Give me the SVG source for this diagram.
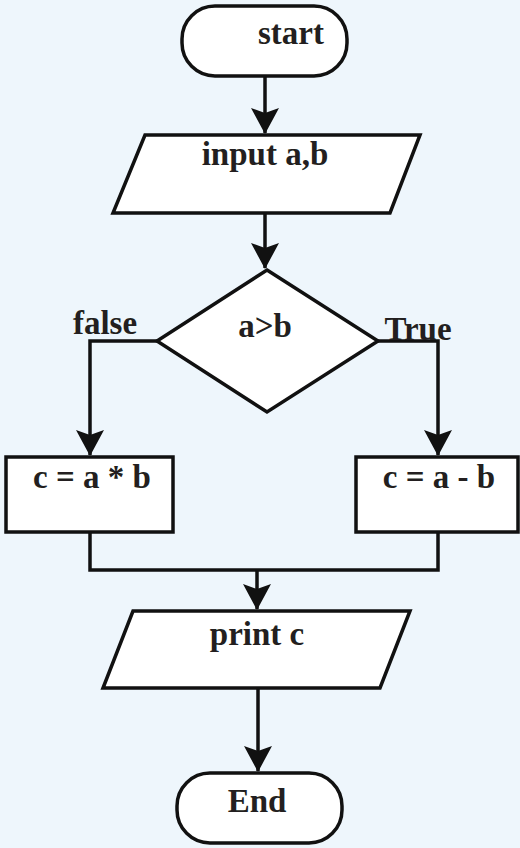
<svg xmlns="http://www.w3.org/2000/svg" width="520" height="848" viewBox="0 0 520 848">
<style>
.shape{fill:#ffffff;stroke:#111111;stroke-width:3.5;stroke-linejoin:miter}
.conn{fill:none;stroke:#111111;stroke-width:3.5}
text{font-family:"Liberation Serif","Times New Roman",serif;font-weight:bold;font-size:33px;fill:#231f20}
.mid{text-anchor:middle}
</style>
<defs>
<marker id="arr" markerUnits="userSpaceOnUse" markerWidth="26" markerHeight="28" viewBox="0 0 26 28" refX="25" refY="14" orient="auto">
<path d="M0,0 L26,14 L0,28 L5,14 z" fill="#111111"/>
</marker>
</defs>
<rect width="520" height="848" fill="#eef6fc"/>
<g id="connectors">
<path class="conn" d="M265,76 V133" marker-end="url(#arr)"/>
<path class="conn" d="M265,213 V268" marker-end="url(#arr)"/>
<path class="conn" d="M157,341 H90 V455" marker-end="url(#arr)"/>
<path class="conn" d="M378,341 H438 V455" marker-end="url(#arr)"/>
<path class="conn" d="M90,532 V570 H438 V532"/>
<path class="conn" d="M257,570 V609" marker-end="url(#arr)"/>
<path class="conn" d="M258,688 V771" marker-end="url(#arr)"/>
</g>
<g id="start">
<rect class="shape" x="182" y="6" width="165" height="70" rx="33" ry="33"/>
<text x="291" y="44" class="mid">start</text>
</g>
<g id="input">
<polygon class="shape" points="145,135 420,135 390,213 113,213"/>
<text x="265" y="165" class="mid">input a,b</text>
</g>
<g id="decision">
<polygon class="shape" points="267,270 378,341 267,412 157,341"/>
<text x="265" y="337" class="mid">a&gt;b</text>
</g>
<g id="label-false">
<text x="105" y="334" class="mid">false</text>
</g>
<g id="label-true">
<text x="418" y="340" class="mid">True</text>
</g>
<g id="mult">
<rect class="shape" x="6" y="457" width="167" height="75"/>
<text x="92" y="488" class="mid">c = a * b</text>
</g>
<g id="sub">
<rect class="shape" x="356" y="457" width="162" height="75"/>
<text x="439" y="488" class="mid">c = a - b</text>
</g>
<g id="print">
<polygon class="shape" points="133,611 410,611 380,688 103,688"/>
<text x="257" y="645" class="mid">print c</text>
</g>
<g id="end">
<rect class="shape" x="177" y="773" width="165" height="70" rx="33" ry="33"/>
<text x="257" y="812" class="mid">End</text>
</g>
</svg>
